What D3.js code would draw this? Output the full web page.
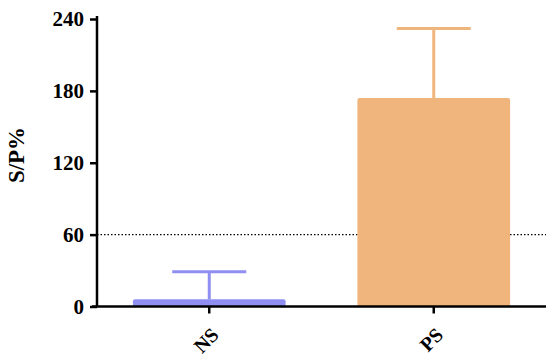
<!DOCTYPE html>
<html>
<head>
<meta charset="utf-8">
<script src="https://cdn.jsdelivr.net/npm/d3@7"></script>
<style>
  body { margin: 0; background: #fff; }
  text { font-family: "Liberation Serif", "DejaVu Serif", serif; font-weight: bold; }
</style>
</head>
<body>
<svg id="chart" width="550" height="361"></svg>
<script>
// data
const groups = ['NS', 'PS'];
const means = [6, 174];
const errTops = [29, 232];
const colors = ['#8f8ff2', '#f0b57c'];
const yTicks = [0, 60, 120, 180, 240];
const cutoff = 60;

const svg = d3.select('#chart');
const margin = { left: 97, right: 4, top: 19, bottom: 54.5 };
const width = 550 - margin.left - margin.right;
const height = 361 - margin.top - margin.bottom;

const g = svg.append('g').attr('transform', `translate(${margin.left},${margin.top})`);

const x = d3.scaleBand().domain(groups).range([0, width]).paddingInner(0.32).paddingOuter(0.16);
const y = d3.scaleLinear().domain([0, 240]).range([height, 0]);

// dotted cutoff line
g.append('line')
  .attr('x1', 0).attr('x2', width)
  .attr('y1', y(cutoff)).attr('y2', y(cutoff))
  .attr('stroke', '#000').attr('stroke-width', 1.2)
  .attr('stroke-dasharray', '1.5,2');

// error bars (upper only)
groups.forEach((gr, i) => {
  const cx = x(gr) + x.bandwidth() / 2;
  g.append('line')
    .attr('x1', cx).attr('x2', cx)
    .attr('y1', y(means[i])).attr('y2', y(errTops[i]))
    .attr('stroke', colors[i]).attr('stroke-width', 3);
  g.append('line')
    .attr('x1', cx - 37).attr('x2', cx + 37)
    .attr('y1', y(errTops[i])).attr('y2', y(errTops[i]))
    .attr('stroke', colors[i]).attr('stroke-width', 3);
});

// bars
g.selectAll('rect.bar')
  .data(groups)
  .join('rect')
  .attr('class', 'bar')
  .attr('x', d => x(d))
  .attr('width', x.bandwidth())
  .attr('y', (d, i) => y(means[i]))
  .attr('height', (d, i) => y(0) - y(means[i]))
  .attr('rx', 2)
  .attr('fill', (d, i) => colors[i]);

// y axis
const yAxis = g.append('g')
  .call(d3.axisLeft(y).tickValues(yTicks).tickSize(7).tickPadding(6));
yAxis.select('.domain').attr('stroke-width', 2.5).attr('d', `M0,${y(240) - 3}V${height}`);
yAxis.selectAll('.tick line').attr('stroke-width', 2.5);
yAxis.selectAll('.tick text').attr('font-size', 21).attr('fill', '#000');

// x axis
const xAxis = g.append('g')
  .attr('transform', `translate(0,${height})`)
  .call(d3.axisBottom(x).tickSize(7).tickPadding(4));
xAxis.select('.domain').attr('stroke-width', 2.5).attr('d', `M-5,0H${width}`);
xAxis.selectAll('.tick line').attr('stroke-width', 2.5);
xAxis.selectAll('.tick text')
  .attr('font-size', 20).attr('fill', '#000')
  .attr('text-anchor', 'end')
  .attr('dy', '0.35em')
  .attr('transform', 'translate(-2,17) rotate(-45)');

// y title
svg.append('text')
  .attr('transform', 'translate(24,155) rotate(-90)')
  .attr('text-anchor', 'middle')
  .attr('font-size', 23)
  .text('S/P%');
</script>
</body>
</html>
